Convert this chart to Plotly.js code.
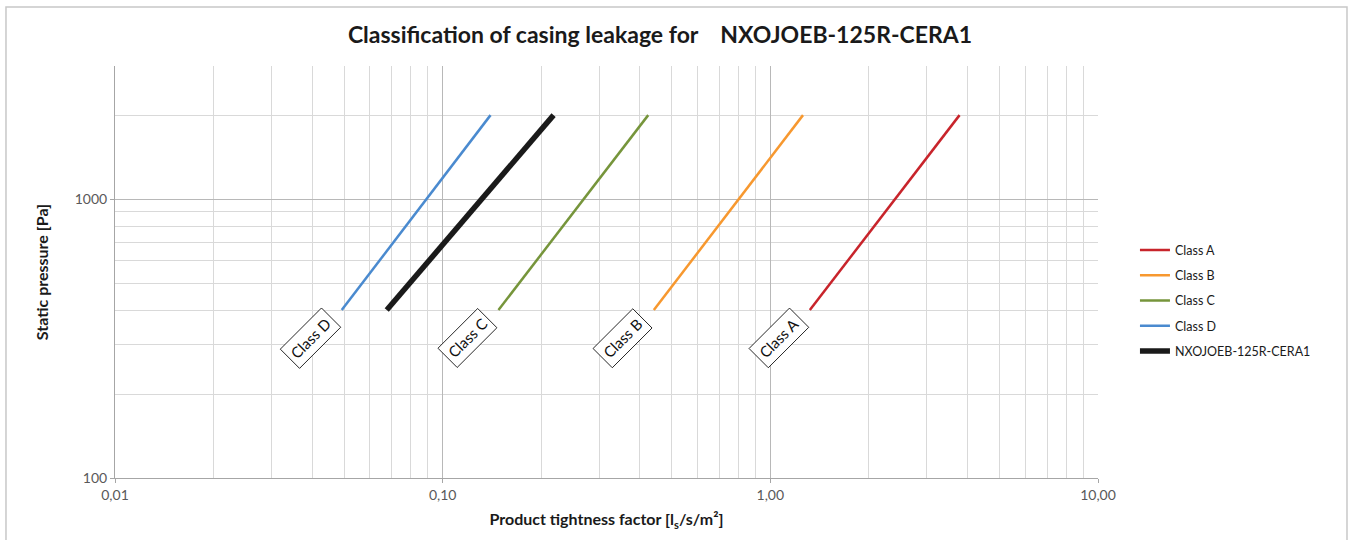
<!DOCTYPE html>
<html>
<head>
<meta charset="utf-8">
<script src="https://cdn.plot.ly/plotly-3.0.1.min.js"></script>
<style>
html,body{margin:0;padding:0;background:#fff;}
#chart{width:1352px;height:540px;}
</style>
</head>
<body>
<div id="chart"></div>
<script>
// Data
const seriesNames = ["Class A", "Class B", "Class C", "Class D", "NXOJOEB-125R-CERA1"];
const pressure = [400, 2000];
const classA = [1.32, 3.78];
const classB = [0.441, 1.258];
const classC = [0.148, 0.424];
const classD = [0.0492, 0.140];
const product = [0.0675, 0.218];
const xTickVals = [0.01, 0.1, 1, 10];
const xTickText = ["0,01", "0,10", "1,00", "10,00"];
const yTickVals = [100, 1000];
const yTickText = ["100", "1000"];
const xMinor = [0.02,0.03,0.04,0.05,0.06,0.07,0.08,0.09,0.2,0.3,0.4,0.5,0.6,0.7,0.8,0.9,2,3,4,5,6,7,8,9];
const yMinor = [200,300,400,500,600,700,800,900,2000,3000];
const labelNames = ["Class A", "Class B", "Class C", "Class D"];

const colors = ["#c8242b", "#f7982f", "#76953b", "#4a8acf", "#1a1a1a"];
const widths = [2.5, 2.5, 2.5, 2.5, 5.5];
const allX = [classA, classB, classC, classD, product];
const FONT = "Lato, 'Open Sans', sans-serif";

const traces = allX.map((xs, i) => ({
  x: xs, y: pressure, type: "scatter", mode: "lines",
  name: seriesNames[i], legendgroup: "g" + i,
  line: {color: colors[i], width: widths[i]},
  hoverinfo: "skip"
}));

const annotations = labelNames.map((n, i) => ({
  x: Math.log10(allX[i][0]), y: Math.log10(pressure[0]),
  xref: "x", yref: "y", text: n, showarrow: false,
  textangle: -45, bgcolor: "#ffffff", bordercolor: "#000000", borderwidth: 0.8,
  borderpad: 4, xshift: -31, yshift: -28,
  font: {family: FONT, size: 15, color: "#111111"}
}));

const layout = {
  width: 1352, height: 540,
  margin: {l: 115, r: 254, t: 66, b: 62},
  paper_bgcolor: "#ffffff", plot_bgcolor: "#ffffff",
  font: {family: FONT, size: 14, color: "#595959"},
  title: {
    text: "<b>Classification of casing leakage for \u00a0\u00a0\u00a0NXOJOEB-125R-CERA1</b>",
    font: {family: FONT, size: 23, color: "#1a1a1a"},
    xref: "paper", x: 0.5544, xanchor: "center",
    yref: "container", y: 0.935, yanchor: "middle"
  },
  xaxis: {
    type: "log", range: [-2, 1],
    tickvals: xTickVals, ticktext: xTickText,
    ticks: "outside", ticklen: 4, tickcolor: "#a6a6a6",
    showline: true, linecolor: "#a6a6a6", linewidth: 1,
    showgrid: true, gridcolor: "#b8b8b8", gridwidth: 1,
    zeroline: false,
    minor: {tickvals: xMinor, showgrid: true, gridcolor: "#d9d9d9", gridwidth: 1, ticks: ""},
    tickfont: {family: FONT, size: 14, color: "#595959"},
    title: {text: "<b>Product tightness factor [l<sub>s</sub>/s/m²]</b>", standoff: 12,
            font: {family: FONT, size: 16, color: "#1a1a1a"}}
  },
  yaxis: {
    type: "log", range: [2, Math.log10(3000)],
    tickvals: yTickVals, ticktext: yTickText,
    ticks: "outside", ticklen: 4, tickcolor: "#a6a6a6",
    showline: true, linecolor: "#a6a6a6", linewidth: 1,
    showgrid: true, gridcolor: "#b8b8b8", gridwidth: 1,
    zeroline: false,
    minor: {tickvals: yMinor, showgrid: true, gridcolor: "#d9d9d9", gridwidth: 1, ticks: ""},
    tickfont: {family: FONT, size: 14, color: "#595959"},
    title: {text: "<b>Static pressure [Pa]</b>", standoff: 22,
            font: {family: FONT, size: 16, color: "#1a1a1a"}}
  },
  legend: {
    x: 1.0376, xanchor: "left", y: 0.43, yanchor: "middle",
    font: {family: FONT, size: 12.5, color: "#1a1a1a"},
    itemwidth: 30, tracegroupgap: 6, bgcolor: "rgba(0,0,0,0)"
  },
  showlegend: true,
  annotations: annotations,
  shapes: [{
    type: "rect", xref: "paper", yref: "paper",
    x0: -0.1109, x1: 1.2533, y0: -0.2, y1: 1.1432,
    line: {color: "#c8c8c8", width: 1.5}, layer: "below"
  }]
};

Plotly.newPlot("chart", traces, layout, {displayModeBar: false, staticPlot: true});
</script>
</body>
</html>
